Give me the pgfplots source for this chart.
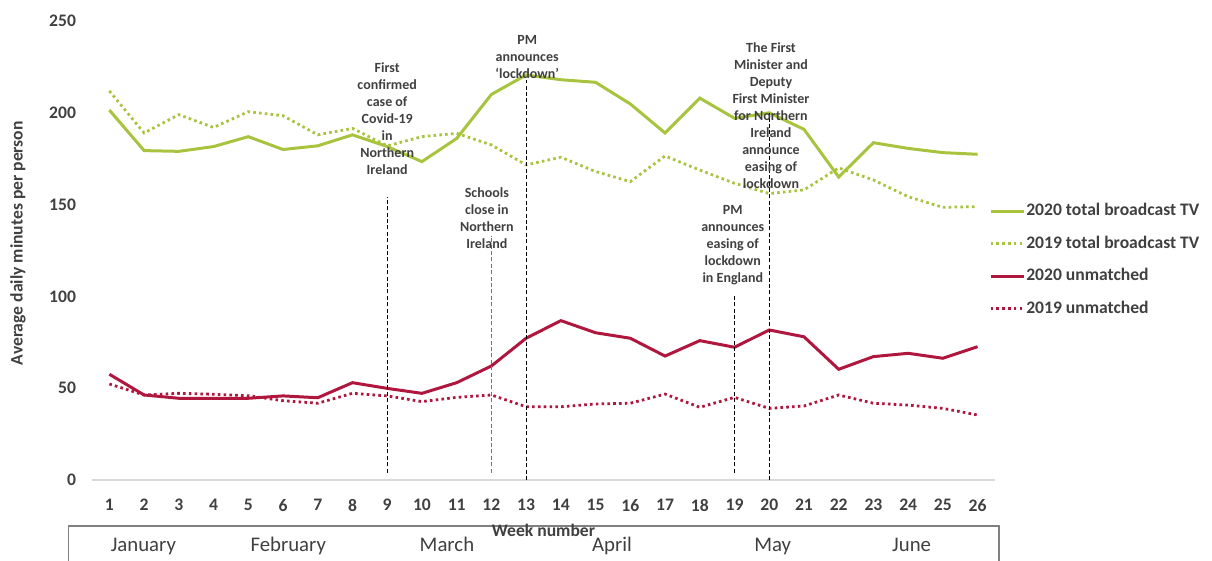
\documentclass[border=0pt]{standalone}
\usepackage{fontspec}
\setmainfont{Carlito}
\usepackage{pgfplots}
\pgfplotsset{compat=1.18}

\definecolor{tvgreen}{HTML}{A8C43E}
\definecolor{unred}{HTML}{B0173F}
\definecolor{txt}{HTML}{404040}
\newcommand{\tk}{\bfseries\fontsize{8.8}{10}\selectfont}
\newcommand{\ann}{\bfseries\fontsize{7}{8.5}\selectfont}
\newcommand{\mon}{\fontsize{10.4}{12}\selectfont}

\begin{document}
\begin{tikzpicture}
\useasboundingbox (-46pt,-40.5pt) rectangle (560pt,240pt);
\begin{axis}[
  scale only axis,
  width=451.5pt, height=229.5pt,
  xmin=0.5, xmax=26.5, ymin=0, ymax=250,
  clip=false,
  axis x line*=bottom, axis y line*=left,
  x axis line style={draw=black!15, line width=0.6pt, -},
  y axis line style={draw=none},
  major tick length=0pt,
  xtick={1,...,26}, ytick={0,50,...,250},
  /pgf/number format/assume math mode=true,
  ticklabel style={font=\tk, text=txt},
  xticklabel style={yshift=-6pt},
  yticklabel style={xshift=-4.5pt},
  xlabel={Week number},
  xlabel style={font=\tk, text=txt, at={(axis description cs:0.5,-0.109)}, anchor=center},
  ylabel={Average daily minutes per person},
  ylabel style={font=\tk, text=txt, at={(axis description cs:-0.082,0.516)}, anchor=center},
  legend style={at={(axis description cs:0.993,0.606)}, anchor=north west, draw=none, fill=none,
    font=\tk, text=txt, inner sep=0pt, row sep=7.4pt,
    nodes={inner sep=0.6pt}},
  legend cell align=left,
  legend image code/.code={\draw[#1] (0pt,0pt) -- (16.5pt,0pt);},
]
\addplot[tvgreen, line width=1.5pt] coordinates {
  (1,201.5) (2,179.4) (3,179) (4,181.6) (5,187) (6,180) (7,182) (8,188)
  (9,181.6) (10,173.4) (11,186) (12,210) (13,220.6) (14,218) (15,216.6)
  (16,204.8) (17,189) (18,208) (19,197) (20,200) (21,191) (22,165)
  (23,183.7) (24,180.6) (25,178.3) (26,177.4)};
\addlegendentry{2020 total broadcast TV}
\addplot[tvgreen, line width=1.4pt, dash pattern=on 1.3pt off 1.6pt] coordinates {
  (1,211.9) (2,189) (3,199) (4,192) (5,200.6) (6,198.4) (7,188) (8,191.5)
  (9,182) (10,187) (11,188.8) (12,182.5) (13,171.6) (14,175.8) (15,168)
  (16,162.5) (17,176.5) (18,168.8) (19,161.6) (20,156) (21,158) (22,170)
  (23,163.4) (24,154.3) (25,148.5) (26,148.9)};
\addlegendentry{2019 total broadcast TV}
\addplot[unred, line width=1.5pt] coordinates {
  (1,57.6) (2,46.3) (3,44.5) (4,44.5) (5,44.5) (6,45.8) (7,44.8) (8,53)
  (9,49.9) (10,47.2) (11,53) (12,62.1) (13,77.2) (14,86.8) (15,80.2)
  (16,77.2) (17,67.5) (18,75.9) (19,72.3) (20,81.7) (21,78) (22,60.3)
  (23,67.2) (24,69) (25,66.3) (26,72.6)};
\addlegendentry{2020 unmatched}
\addplot[unred, line width=1.4pt, dash pattern=on 1.3pt off 1.6pt] coordinates {
  (1,52.3) (2,46.3) (3,47.2) (4,46.7) (5,45.9) (6,43.2) (7,41.8) (8,47.2)
  (9,45.8) (10,42.7) (11,45) (12,46.3) (13,39.9) (14,39.9) (15,41.4)
  (16,41.8) (17,46.8) (18,39.6) (19,45) (20,39) (21,40.3) (22,46.3)
  (23,41.8) (24,40.8) (25,39) (26,35.4)};
\addlegendentry{2019 unmatched}
% event markers
\addplot[forget plot, black, line width=0.5pt, dash pattern=on 2pt off 1.2pt] coordinates {(9,4) (9,154)};
\addplot[forget plot, black!55, line width=0.75pt, dash pattern=on 2pt off 1.2pt] coordinates {(12,4) (12,133)};
\addplot[forget plot, black, line width=0.5pt, dash pattern=on 2pt off 1.2pt] coordinates {(13,0) (13,218)};
\addplot[forget plot, black, line width=0.5pt, dash pattern=on 2pt off 1.2pt] coordinates {(19,4) (19,101)};
\addplot[forget plot, black, line width=0.5pt, dash pattern=on 2pt off 1.2pt] coordinates {(20,0) (20,200)};
\node[font=\ann, text=txt, align=center] at (axis cs:9,196.6)
  {First\\confirmed\\case of\\Covid-19\\in\\Northern\\Ireland};
\node[font=\ann, text=txt, align=center] at (axis cs:11.87,142.7)
  {Schools\\close in\\Northern\\Ireland};
\node[font=\ann, text=txt, align=center] at (axis cs:13.03,230.4)
  {PM\\announces\\‘lockdown’};
\node[font=\ann, text=txt, align=center] at (axis cs:20.05,198.3)
  {The First\\Minister and\\Deputy\\First Minister\\for Northern\\Ireland\\announce\\easing of\\lockdown};
\node[font=\ann, text=txt, align=center] at (axis cs:18.95,128)
  {PM\\announces\\easing of\\lockdown\\in England};
% month box
\draw[black!50, line width=0.7pt] (axis cs:-0.18,-50) -- (axis cs:-0.18,-25.05)
  -- (axis cs:26.62,-25.05) -- (axis cs:26.62,-50);
\node[font=\mon, text=txt, anchor=base] at (axis cs:1.98,-38.7) {January};
\node[font=\mon, text=txt, anchor=base] at (axis cs:6.15,-38.7) {February};
\node[font=\mon, text=txt, anchor=base] at (axis cs:10.72,-38.7) {March};
\node[font=\mon, text=txt, anchor=base] at (axis cs:15.47,-38.7) {April};
\node[font=\mon, text=txt, anchor=base] at (axis cs:20.1,-38.7) {May};
\node[font=\mon, text=txt, anchor=base] at (axis cs:24.1,-38.7) {June};
\end{axis}
\end{tikzpicture}
\end{document}
